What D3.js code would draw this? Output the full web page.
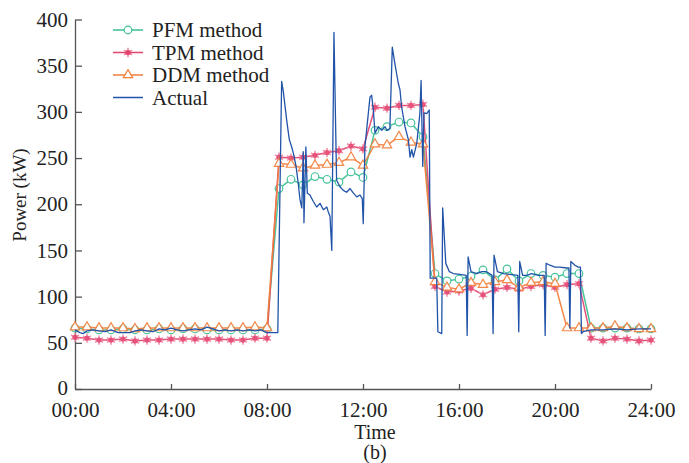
<!DOCTYPE html>
<html>
<head>
<meta charset="utf-8">
<script src="https://cdn.jsdelivr.net/npm/d3@7"></script>
<style>
    body { margin: 0; background: #fff; }
    text { font-family: "Liberation Serif", "Times New Roman", serif; fill: #222; }
</style>
</head>
<body>
<svg id="svg" width="689" height="463"></svg>
<script>
// half-hour slots used by the three forecast methods
let slotHours = d3.range(0, 24.01, 0.5);

let pfmPower = [66, 65, 64, 64, 65, 64, 64, 65, 64, 65, 65, 64, 64, 64, 64, 64, 65,
    217, 227, 221, 230, 227, 224, 235, 229,
    280, 284, 289, 288, 273,
    125, 117, 119, 122, 129, 118, 130, 117, 125, 123, 121, 125, 125,
    66, 66, 66, 66, 65, 65];

let tpmPower = [56, 55, 53, 53, 54, 52, 53, 53, 54, 54, 54, 54, 54, 53, 53, 55, 55,
    251, 250, 251, 253, 256, 258, 263, 260,
    305, 304, 307, 307, 308,
    111, 105, 106, 109, 102, 108, 110, 108, 111, 113, 110, 113, 114,
    55, 52, 55, 54, 52, 53];

let ddmPower = [67, 67, 66, 66, 66, 65, 66, 66, 66, 66, 66, 66, 66, 66, 66, 67, 66,
    244, 243, 239, 242, 243, 245, 251, 242,
    265, 264, 273, 267, 265,
    116, 110, 108, 115, 113, 116, 118, 110, 115, 116, 114,
    66, 66, 66, 66, 68, 66, 65, 65];

// measured load (irregular sample times, hours)
let actualHours = [0, 0.2, 0.35, 0.5, 0.75, 1, 1.25, 1.5, 1.8, 2.3, 2.5, 2.75, 3, 3.25, 3.5, 3.75,
    4, 4.25, 4.5, 4.75, 5, 5.25, 5.5, 5.75, 6, 6.25, 6.5, 6.75, 7, 7.25, 7.5, 7.75, 8, 8.45,
    8.61, 8.68, 8.82, 8.93, 9.03, 9.1, 9.21, 9.3, 9.375, 9.45, 9.51, 9.54, 9.62, 9.68, 9.79, 9.93,
    10.07, 10.21, 10.35, 10.49, 10.55, 10.625, 10.7, 10.79, 10.9, 11.04, 11.18, 11.32, 11.46, 11.6,
    11.74, 11.875, 11.97, 12.01, 12.08, 12.29, 12.36, 12.43, 12.5, 12.64, 12.78, 12.92, 12.99, 13.12,
    13.22, 13.33, 13.47, 13.54, 13.61, 13.75, 13.89, 13.96, 14.03, 14.1, 14.24, 14.37, 14.42, 14.49,
    14.54, 14.65, 14.76, 14.8, 15.07, 15.12, 15.28, 15.32, 15.45, 15.6, 15.76, 16.04, 16.3, 16.34,
    16.38, 16.5, 16.74, 16.95, 17.15, 17.38, 17.42, 17.46, 17.6, 17.85, 18.12, 18.45, 18.49, 18.53,
    18.65, 18.82, 19.03, 19.3, 19.55, 19.59, 19.63, 19.79, 20, 20.2, 20.49, 20.58, 20.62, 20.66,
    20.83, 20.97, 21.06, 21.1, 21.17, 21.5, 22, 22.5, 23, 23.5, 24];
let actualPower = [64, 61, 60, 63, 64, 63, 62, 64, 61, 61, 63, 64, 63, 62, 65, 64,
    66, 64, 63, 64, 65, 64, 67, 65, 63, 64, 63, 64, 63, 64, 63, 64, 61, 61,
    333, 322, 291, 270, 262, 255, 241, 223, 205, 196, 257, 180, 262, 212, 210, 203,
    197, 201, 194, 197, 192, 187, 150, 386, 226, 219, 215, 213, 217, 212,
    208, 210, 206, 179, 262, 316, 318, 302, 277, 284, 280, 284, 280, 282,
    370, 352, 331, 324, 305, 284, 270, 251, 259, 251, 266, 298, 334, 241,
    299, 298, 302, 120, 120, 62, 60, 196, 136, 127, 125, 124, 123, 58,
    143, 127, 125, 127, 127, 123, 60, 145, 127, 125, 124, 123, 62, 138,
    123, 123, 125, 123, 123, 58, 136, 134, 132, 132, 131, 131, 66, 138,
    134, 132, 132, 60, 62, 64, 64, 65, 64, 65, 65];

let yTicks = [0, 50, 100, 150, 200, 250, 300, 350, 400];
let xTicks = [0, 4, 8, 12, 16, 20, 24];
let xTickLabels = ['00:00', '04:00', '08:00', '12:00', '16:00', '20:00', '24:00'];

let colors = { pfm: '#3bbf92', tpm: '#e4456f', ddm: '#f47f3b', actual: '#2153a8' };

let svg = d3.select('#svg');
let margin = { left: 75, right: 38, top: 19.5, bottom: 74 };
let width = 689, height = 463;

let x = d3.scaleLinear().domain([0, 24]).range([margin.left, width - margin.right]);
let y = d3.scaleLinear().domain([0, 400]).range([height - margin.bottom, margin.top]);

// axes
let yAxis = svg.append('g')
    .attr('transform', `translate(${margin.left},0)`)
    .call(d3.axisLeft(y).tickValues(yTicks).tickSizeInner(-7).tickSizeOuter(0).tickPadding(7));
let xAxis = svg.append('g')
    .attr('transform', `translate(0,${height - margin.bottom})`)
    .call(d3.axisBottom(x).tickValues(xTicks).tickFormat((d, i) => xTickLabels[i])
        .tickSizeInner(-5).tickSizeOuter(0).tickPadding(13));
[xAxis, yAxis].forEach(a => {
    a.selectAll('path, line').attr('stroke', '#555').attr('stroke-width', 1.3);
    a.selectAll('text').attr('font-size', 21).attr('fill', '#222')
        .attr('font-family', '"Liberation Serif", "Times New Roman", serif');
});
// the "0" label sits right at the corner, lift it a hair
yAxis.selectAll('.tick text').filter(d => d === 0).attr('dy', '0.25em');

svg.append('text')
    .attr('x', 375).attr('y', 439)
    .attr('text-anchor', 'middle').attr('font-size', 20)
    .text('Time');
svg.append('text')
    .attr('x', 375).attr('y', 459)
    .attr('text-anchor', 'middle').attr('font-size', 20)
    .text('(b)');
svg.append('text')
    .attr('transform', 'translate(26,195) rotate(-90)')
    .attr('text-anchor', 'middle').attr('font-size', 19)
    .text('Power (kW)');

// marker helpers
function drawMarker(g, kind, cx, cy) {
    if (kind === 'pfm') {
        g.append('circle').attr('cx', cx).attr('cy', cy).attr('r', 3.8)
            .attr('fill', '#fff').attr('stroke', colors.pfm).attr('stroke-width', 1.2);
    } else if (kind === 'tpm') {
        g.append('path').attr('d', d3.symbol(d3.symbolAsterisk, 60)())
            .attr('transform', `translate(${cx},${cy})`)
            .attr('stroke', '#f08aa6').attr('stroke-width', 1.6).attr('fill', 'none');
        g.append('circle').attr('cx', cx).attr('cy', cy).attr('r', 2.6)
            .attr('fill', colors.tpm);
    } else {
        g.append('path').attr('d', d3.symbol(d3.symbolTriangle, 38)())
            .attr('transform', `translate(${cx},${cy})`)
            .attr('fill', '#fff').attr('stroke', colors.ddm).attr('stroke-width', 1.2);
    }
}

let line = d3.line().x(d => x(d[0])).y(d => y(d[1]));

let methods = [
    { key: 'pfm', values: pfmPower },
    { key: 'tpm', values: tpmPower },
    { key: 'ddm', values: ddmPower },
];

methods.forEach(m => {
    let pts = slotHours.map((h, i) => [h, m.values[i]]);
    let g = svg.append('g').attr('opacity', 0.92);
    g.append('path').datum(pts)
        .attr('d', line)
        .attr('fill', 'none')
        .attr('stroke', colors[m.key])
        .attr('stroke-width', 1.5);
    pts.forEach(p => drawMarker(g, m.key, x(p[0]), y(p[1])));
});

svg.append('path')
    .datum(actualHours.map((h, i) => [h, actualPower[i]]))
    .attr('d', line)
    .attr('fill', 'none')
    .attr('stroke', colors.actual)
    .attr('stroke-width', 1.3)
    .attr('stroke-linejoin', 'round');

// legend
let legendItems = [
    { key: 'pfm', label: 'PFM method' },
    { key: 'tpm', label: 'TPM method' },
    { key: 'ddm', label: 'DDM method' },
    { key: 'actual', label: 'Actual' },
];
let legend = svg.append('g');
legendItems.forEach((item, i) => {
    let ly = 30 + i * 22.5;
    legend.append('line')
        .attr('x1', 113).attr('x2', 143).attr('y1', ly).attr('y2', ly)
        .attr('stroke', colors[item.key]).attr('stroke-width', 1.5);
    if (item.key !== 'actual') drawMarker(legend, item.key, 128, ly);
    legend.append('text')
        .attr('x', 152).attr('y', ly).attr('dy', '0.35em')
        .attr('font-size', 21)
        .text(item.label);
});
</script>
</body>
</html>
